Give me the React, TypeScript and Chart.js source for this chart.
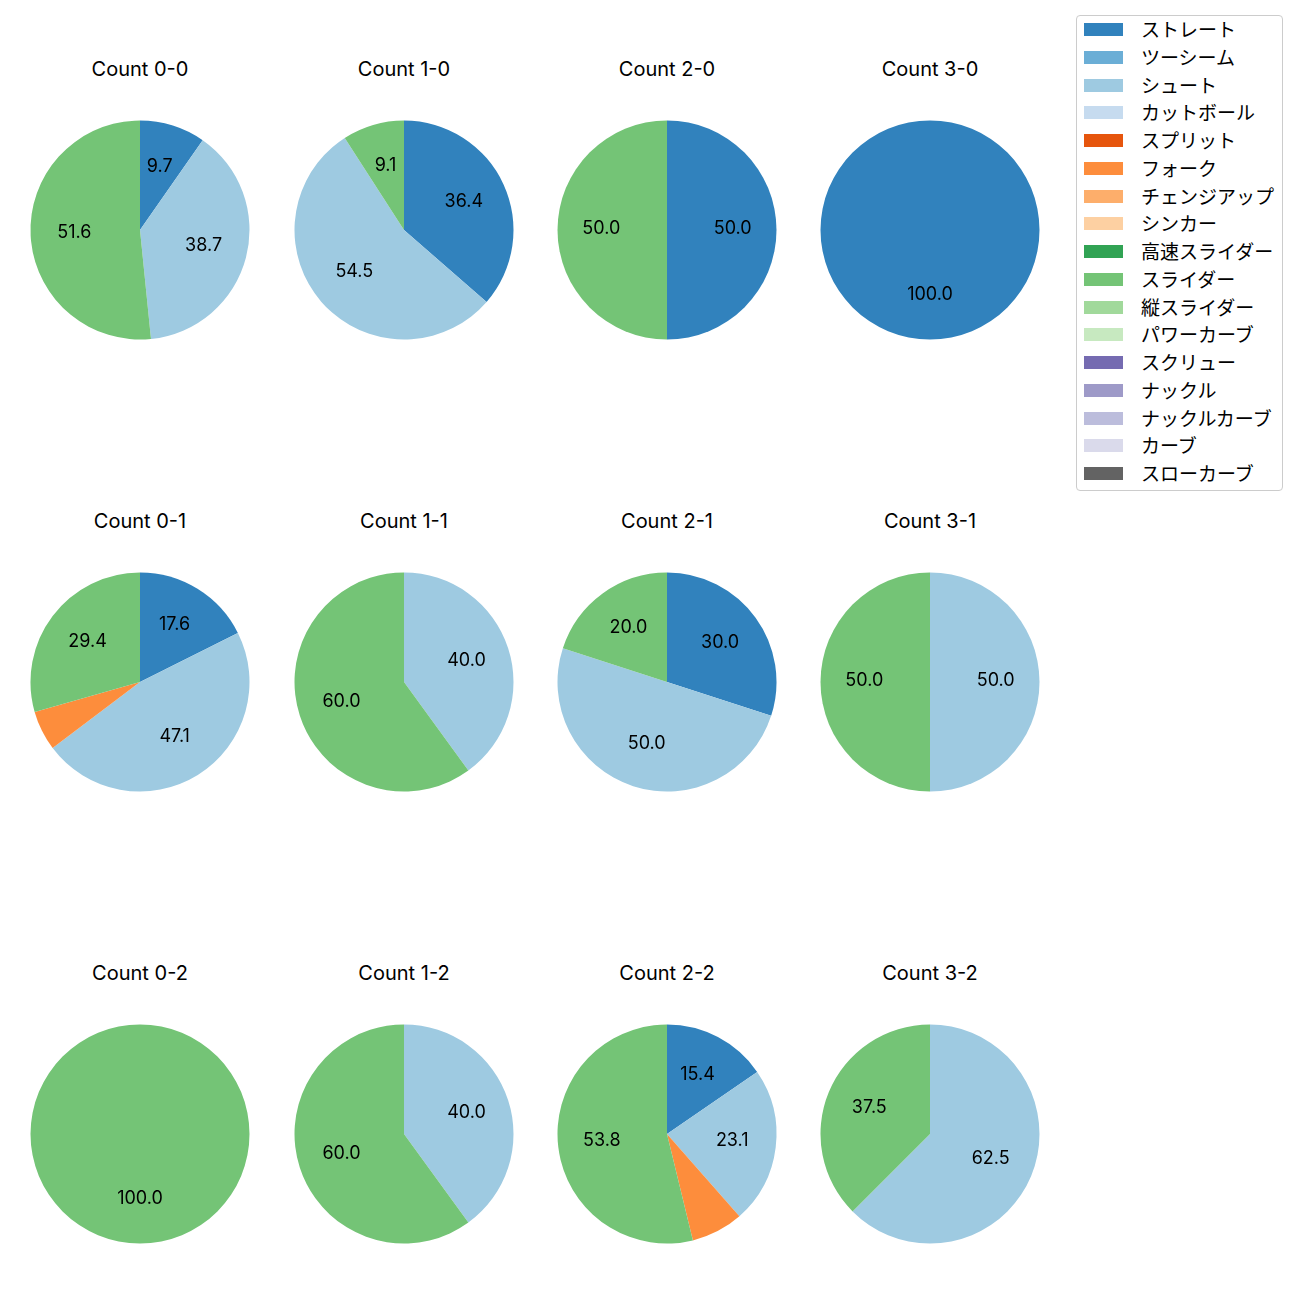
import React, { useEffect, useRef } from "react";
import { Chart, registerables } from "chart.js";

Chart.register(...registerables);

const categories = [
  "ストレート", "ツーシーム", "シュート", "カットボール", "スプリット", "フォーク",
  "チェンジアップ", "シンカー", "高速スライダー", "スライダー", "縦スライダー",
  "パワーカーブ", "スクリュー", "ナックル", "ナックルカーブ", "カーブ", "スローカーブ",
];
const colors = [
  "#3182bd", "#6baed6", "#9ecae1", "#c6dbef", "#e6550d", "#fd8d3c", "#fdae6b", "#fdd0a2",
  "#31a354", "#74c476", "#a1d99b", "#c7e9c0", "#756bb1", "#9e9ac8", "#bcbddc", "#dadaeb", "#636363",
];

const counts = ["0-0", "1-0", "2-0", "3-0", "0-1", "1-1", "2-1", "3-1", "0-2", "1-2", "2-2", "3-2"];

// percentage per count (same order as counts)
const straight = [9.7, 36.4, 50.0, 100.0, 17.6, 0, 30.0, 0, 0, 0, 15.4, 0];
const shoot = [38.7, 54.5, 0, 0, 47.1, 40.0, 50.0, 50.0, 0, 40.0, 23.1, 62.5];
const fork = [0, 0, 0, 0, 5.9, 0, 0, 0, 0, 0, 7.7, 0];
const slider = [51.6, 9.1, 50.0, 0, 29.4, 60.0, 20.0, 50.0, 100.0, 60.0, 53.8, 37.5];

const FONT = "Inter, 'Noto Sans CJK JP', sans-serif";
const JFONT = "'Noto Sans CJK JP', sans-serif";
const colCenters = [140, 404, 667, 930];
const rowCenters = [230, 682, 1134];
const titleY = [69, 521, 973];
const HALF = 120; // half of canvas size
const PAD = 10.5; // gives a pie radius of 109.5

function valuesFor(i: number): number[] {
  const v = new Array(categories.length).fill(0);
  v[0] = straight[i];
  v[2] = shoot[i];
  v[5] = fork[i];
  v[9] = slider[i];
  return v;
}

const labelPlugin = {
  id: "pctLabels",
  afterDatasetsDraw(chart: any) {
    const ctx = chart.ctx;
    const meta = chart.getDatasetMeta(0);
    const data = chart.data.datasets[0].data as number[];
    ctx.save();
    ctx.font = `18px ${FONT}`;
    ctx.fillStyle = "#000";
    ctx.textAlign = "center";
    ctx.textBaseline = "middle";
    meta.data.forEach((arc: any, idx: number) => {
      const v = data[idx];
      if (!v || v < 8) return;
      const p = arc.getProps(["x", "y", "startAngle", "endAngle", "outerRadius"], true);
      const mid = (p.startAngle + p.endAngle) / 2;
      const r = p.outerRadius * 0.6;
      ctx.fillText(v.toFixed(1), p.x + Math.cos(mid) * r, p.y + Math.sin(mid) * r - 1);
    });
    ctx.restore();
  },
};

function Pie({ index }: { index: number }) {
  const ref = useRef<HTMLCanvasElement>(null);
  useEffect(() => {
    const chart = new Chart(ref.current!, {
      type: "pie",
      data: {
        labels: categories,
        datasets: [{ data: valuesFor(index), backgroundColor: colors, borderWidth: 0 }],
      },
      options: {
        animation: false,
        responsive: false,
        layout: { padding: PAD },
        plugins: { legend: { display: false }, tooltip: { enabled: false }, title: { display: false } },
      },
      plugins: [labelPlugin],
    });
    return () => chart.destroy();
  }, [index]);
  const col = index % 4;
  const row = Math.floor(index / 4);
  const cx = colCenters[col];
  const cy = rowCenters[row];
  return (
    <>
      <div
        style={{
          position: "absolute", left: cx - 100, width: 200, top: titleY[row] - 12, height: 24,
          lineHeight: "24px", textAlign: "center", fontFamily: FONT, fontSize: 20, color: "#000",
        }}
      >
        {`Count ${counts[index]}`}
      </div>
      <canvas
        ref={ref}
        width={HALF * 2}
        height={HALF * 2}
        style={{ position: "absolute", left: cx - HALF, top: cy - HALF, width: HALF * 2, height: HALF * 2 }}
      />
    </>
  );
}

export default function App() {
  return (
    <div style={{ position: "absolute", left: 0, top: 0, width: 1300, height: 1300, background: "#fff" }}>
      {counts.map((_, i) => (
        <Pie key={i} index={i} />
      ))}
      <div
        style={{
          position: "absolute", left: 1076, top: 15, width: 205, height: 474,
          border: "1px solid #cccccc", borderRadius: 4, background: "#fff",
        }}
      />
      {categories.map((c, i) => {
        const y = 29.5 + i * 27.75;
        return (
          <React.Fragment key={c}>
            <div
              style={{
                position: "absolute", left: 1084, top: y - 6.5, width: 39, height: 13, background: colors[i],
              }}
            />
            <div
              style={{
                position: "absolute", left: 1141, top: y - 12.5, height: 24, lineHeight: "24px",
                fontFamily: JFONT, fontSize: 19, color: "#000", whiteSpace: "nowrap",
              }}
            >
              {c}
            </div>
          </React.Fragment>
        );
      })}
    </div>
  );
}
